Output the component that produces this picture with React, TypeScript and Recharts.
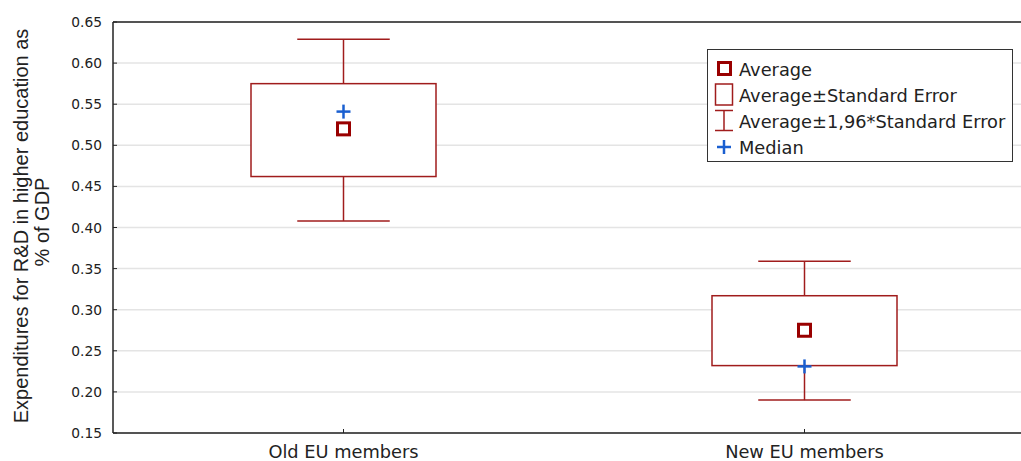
import React from "react";
import { ComposedChart, Bar, Scatter, XAxis, YAxis, CartesianGrid, ReferenceLine } from "recharts";

const groups = ["Old EU members", "New EU members"];
const averages = [0.52, 0.275];
const seLow = [0.462, 0.232];
const seHigh = [0.575, 0.317];
const ciLow = [0.408, 0.19];
const ciHigh = [0.629, 0.359];
const medians = [0.541, 0.231];
const yTicks = [0.15, 0.2, 0.25, 0.3, 0.35, 0.4, 0.45, 0.5, 0.55, 0.6, 0.65];

const RED = "#a01c1c";
const DARK_RED = "#990000";
const BLUE = "#1a5fd0";
const FONT = "DejaVu Sans, sans-serif";

const data = groups.map((name, i) => ({
  name,
  ci: [ciLow[i], ciHigh[i]],
  se: [seLow[i], seHigh[i]],
  mean: averages[i],
  median: medians[i],
}));

// whiskers + box, positions mapped from the bar's own pixel range
const BoxShape = (props: any) => {
  const { x, y, width, height, payload } = props;
  const [lo, hi] = payload.ci;
  const pix = (v: number) => y + ((hi - v) / (hi - lo)) * height;
  const cx = x + width / 2;
  const cap = width / 4;
  const top = pix(payload.se[1]);
  const bottom = pix(payload.se[0]);
  return (
    <g>
      <line x1={cx} x2={cx} y1={y} y2={y + height} stroke={RED} strokeWidth={1.5} />
      <line x1={cx - cap} x2={cx + cap} y1={y} y2={y} stroke={RED} strokeWidth={1.5} />
      <line x1={cx - cap} x2={cx + cap} y1={y + height} y2={y + height} stroke={RED} strokeWidth={1.5} />
      <rect x={x} y={top} width={width} height={bottom - top} fill="#fff" stroke={RED} strokeWidth={1.5} />
    </g>
  );
};

const MeanShape = ({ cx, cy }: any) => (
  <rect x={cx - 6} y={cy - 6} width={12} height={12} fill="#fff" stroke={DARK_RED} strokeWidth={3} />
);

const MedianShape = ({ cx, cy }: any) => (
  <g stroke={BLUE} strokeWidth={2.5}>
    <line x1={cx - 7} x2={cx + 7} y1={cy} y2={cy} />
    <line x1={cx} x2={cx} y1={cy - 7} y2={cy + 7} />
  </g>
);

const YTick = ({ x, y, payload }: any) => (
  <g>
    <line x1={x + 11} x2={x + 15} y1={y} y2={y} stroke="#222" />
    <text x={x} y={y + 5} textAnchor="end" fontFamily={FONT} fontSize={13.8} fill="#222">
      {payload.value.toFixed(2)}
    </text>
  </g>
);

const XTick = ({ x, y, payload }: any) => (
  <g>
    <line x1={x} x2={x} y1={y - 4} y2={y} stroke="#222" />
    <text x={x} y={y + 25} textAnchor="middle" fontFamily={FONT} fontSize={17.8} fill="#222">
      {payload.value}
    </text>
  </g>
);

const YLabel = () => (
  <g fontFamily="Liberation Sans, Arial, sans-serif" fontSize={20} fill="#222" textAnchor="middle">
    <text transform="rotate(-90)" x={-226} y={28}>Expenditures for R&amp;D in higher education as</text>
    <text transform="rotate(-90)" x={-222} y={49}>% of GDP</text>
  </g>
);

const legendRow: React.CSSProperties = { display: "flex", alignItems: "center", height: 26 };

const ChartLegend = () => (
  <div
    style={{
      position: "absolute",
      left: 707,
      top: 49,
      width: 306,
      height: 113,
      border: "1px solid #333",
      background: "#fff",
      fontFamily: FONT,
      fontSize: 17.8,
      color: "#222",
      paddingTop: 6,
      boxSizing: "border-box",
    }}
  >
    {[
      { label: "Average", icon: <rect x={4.5} y={4.5} width={12} height={12} fill="#fff" stroke={DARK_RED} strokeWidth={3} /> },
      { label: "Average±Standard Error", icon: <rect x={1.5} y={0} width={17} height={21} fill="#fff" stroke={RED} strokeWidth={1.5} /> },
      {
        label: "Average±1,96*Standard Error",
        icon: (
          <g stroke={RED} strokeWidth={1.5}>
            <line x1={1} x2={19} y1={0.5} y2={0.5} />
            <line x1={10} x2={10} y1={0.5} y2={20.5} />
            <line x1={1} x2={19} y1={20.5} y2={20.5} />
          </g>
        ),
      },
      {
        label: "Median",
        icon: (
          <g stroke={BLUE} strokeWidth={2.5}>
            <line x1={3} x2={17} y1={11} y2={11} />
            <line x1={10} x2={10} y1={4} y2={18} />
          </g>
        ),
      },
    ].map((row) => (
      <div key={row.label} style={legendRow}>
        <svg width={20} height={22} style={{ marginLeft: 6, marginRight: 5, overflow: "visible" }}>
          {row.icon}
        </svg>
        <span>{row.label}</span>
      </div>
    ))}
  </div>
);

export default function App() {
  return (
    <div style={{ position: "absolute", left: 0, top: 0, width: 1021, height: 461, overflow: "hidden", background: "#fff" }}>
      <ComposedChart width={1040} height={461} data={data} margin={{ top: 22, right: 5, bottom: 0, left: 0 }}>
        <CartesianGrid vertical={false} stroke="#e4e4e4" strokeWidth={1.5} />
        <XAxis
          dataKey="name"
          height={28}
          tickSize={0}
          tickMargin={0}
          tick={<XTick />}
          axisLine={{ stroke: "#222", strokeWidth: 1.5 }}
        />
        <YAxis
          type="number"
          domain={[0.15, 0.65]}
          ticks={yTicks}
          width={113}
          tickSize={0}
          tickMargin={11}
          tick={<YTick />}
          axisLine={{ stroke: "#222", strokeWidth: 1.5 }}
          label={<YLabel />}
        />
        <ReferenceLine y={0.65} stroke="#222" strokeWidth={1.5} />
        <Bar dataKey="ci" barSize={185} shape={<BoxShape />} isAnimationActive={false} />
        <Scatter dataKey="mean" shape={<MeanShape />} isAnimationActive={false} />
        <Scatter dataKey="median" shape={<MedianShape />} isAnimationActive={false} />
      </ComposedChart>
      <ChartLegend />
    </div>
  );
}
